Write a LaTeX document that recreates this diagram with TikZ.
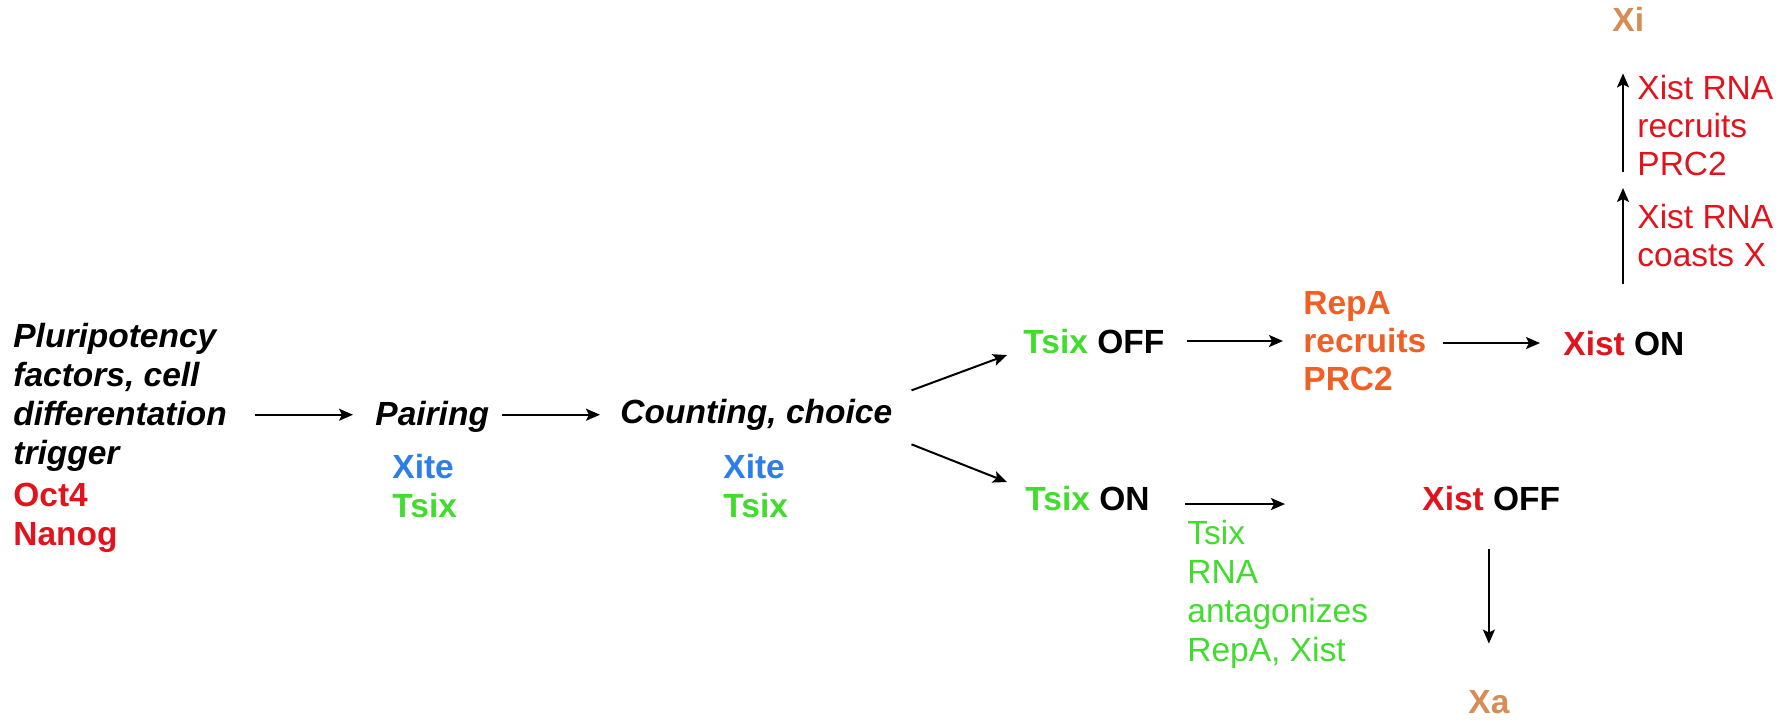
\documentclass[tikz,border=0pt]{standalone}
\usepackage{fontspec}
\setmainfont{Liberation Sans}
\usetikzlibrary{arrows.meta,calc}
\definecolor{xred}{RGB}{225,20,30}
\definecolor{xgreen}{RGB}{65,220,45}
\definecolor{xblue}{RGB}{45,125,235}
\definecolor{xorange}{RGB}{240,95,35}
\definecolor{xtan}{RGB}{215,140,85}
\newcommand\fsA{\fontsize{16.75pt}{19.5pt}\selectfont}
\newcommand\fsB{\fontsize{16.75pt}{19pt}\selectfont}
\tikzset{
  lbl/.style={inner sep=0pt, anchor=base west, align=left},
  bold/.style={lbl, font=\fsB\bfseries},
  boldA/.style={lbl, font=\fsA\bfseries},
  bital/.style={lbl, font=\fsB\bfseries\itshape},
  plain/.style={lbl, font=\fsB},
  arr/.style={-{Stealth[length=7pt,width=6pt,inset=1.5pt]}, line width=1pt, black}
}
\begin{document}
\begin{tikzpicture}[x=0.5pt,y=-0.5pt]
\useasboundingbox (0,0) rectangle (1791,723);
% left block (anchor = baseline of last line)
\node[lbl, font=\fsA\bfseries\itshape] (plur) at (13,464) {Pluripotency\\factors, cell\\differentation\\trigger};
\node[lbl, font=\fsA\bfseries, text=xred] (oct) at (13,545) {Oct4\\Nanog};
% pairing
\node[bital] (pair) at (375,425) {Pairing};
\node[boldA] (g1) at (392,517) {\color{xblue}Xite\\\color{xgreen}Tsix};
% counting
\node[bital] (count) at (620,423) {Counting, choice};
\node[boldA] (g2) at (723,517) {\color{xblue}Xite\\\color{xgreen}Tsix};
% upper branch
\node[bold] (toff) at (1023,353) {{\color{xgreen}Tsix} OFF};
\node[bold, text=xorange] (repa) at (1303,390) {RepA\\recruits\\PRC2};
\node[bold] (xon) at (1563,355) {{\color{xred}Xist} ON};
\node[plain, text=xred] (coasts) at (1637,266) {Xist RNA\\coasts X};
\node[plain, text=xred] (recr) at (1637,175) {Xist RNA\\recruits\\PRC2};
\node[bold, text=xtan] (xi) at (1612,31) {Xi};
\coordinate (vmid) at (1623,180);
% lower branch
\node[bold] (ton) at (1025,510) {{\color{xgreen}Tsix} ON};
\node[lbl, font=\fsA, text=xgreen] (antag) at (1187,661) {Tsix\\RNA\\antagonizes\\RepA, Xist};
\node[bold] (xoff) at (1422,510) {{\color{xred}Xist} OFF};
\node[bold, text=xtan] (xa) at (1468,713) {Xa};
% connectors
\draw[arr, shorten <=14pt, shorten >=11pt] ([yshift=2.5pt]plur.east |- pair.mid) -- ([yshift=2.5pt]pair.west |- pair.mid);
\draw[arr, shorten <=6.5pt, shorten >=10pt] ([yshift=2.5pt]pair.east |- pair.mid) -- ([yshift=2.5pt]count.west |- pair.mid);
\draw[arr] ([shift={(19,-24)}]count.east) -- ([shift={(-16,14)}]toff.west);
\draw[arr] ([shift={(19,30)}]count.east) -- ([shift={(-18,-16)}]ton.west);
\draw[arr, shorten <=11pt, shorten >=10pt] (toff.east) -- (toff.east -| repa.west);
\draw[arr, shorten <=8pt, shorten >=11.5pt] (repa.east |- xon.west) -- (xon.west);
\draw[arr, shorten <=23pt, shorten >=4pt] (vmid |- xon.north) -- (vmid);
\draw[arr, shorten <=4pt, shorten >=21pt] (vmid) -- (vmid |- xi.south);
\draw[arr, shorten <=17.5pt, shorten >=68.5pt] ([yshift=-3pt]ton.east) -- ([yshift=-3pt]ton.east -| xoff.west);
\draw[arr, shorten <=19pt, shorten >=23pt] (xa.north |- xoff.south) -- (xa.north);
\end{tikzpicture}
\end{document}
